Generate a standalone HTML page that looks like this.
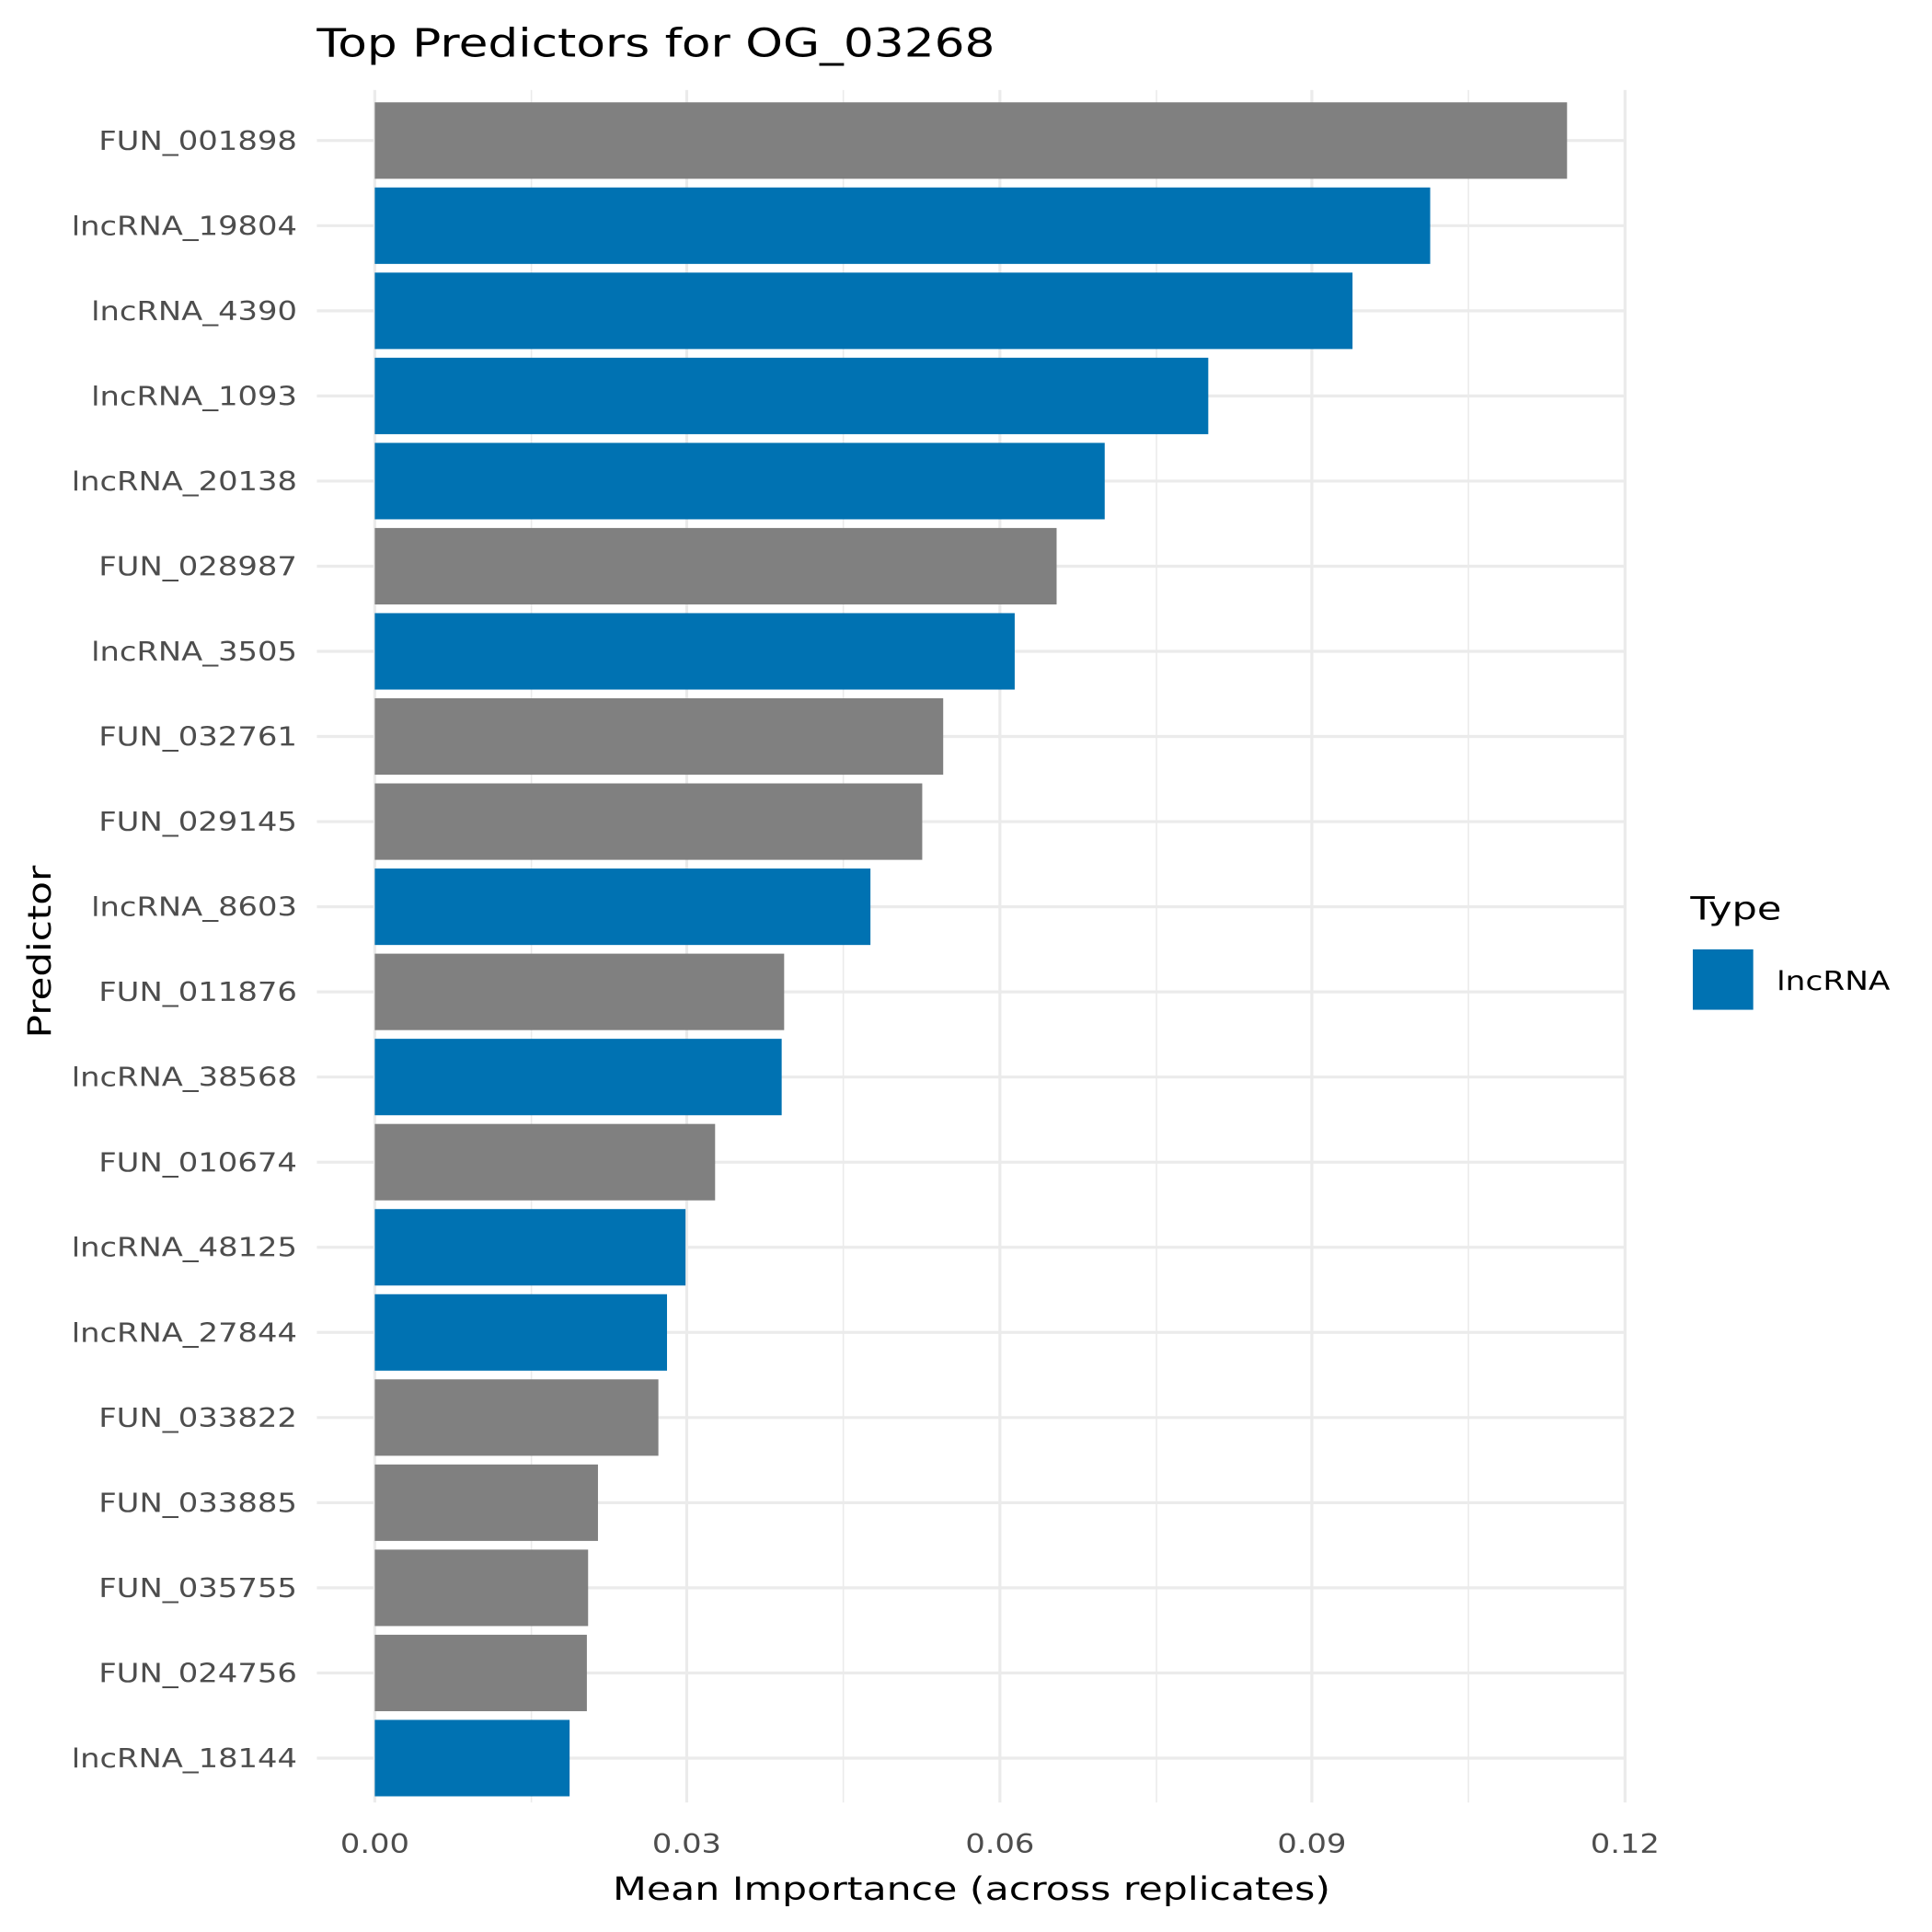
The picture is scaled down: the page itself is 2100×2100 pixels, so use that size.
<!DOCTYPE html>
<html><head><meta charset="utf-8"><style>html,body{margin:0;padding:0;background:#fff}svg{display:block}</style></head>
<body>
<svg xmlns="http://www.w3.org/2000/svg" width="2100" height="2100" viewBox="0 0 1567 1567" font-family="'DejaVu Sans','Liberation Sans',sans-serif">
<rect width="1567" height="1567" fill="#fff"/>
<g stroke="#ebebeb">
<g stroke-width="1.2">
<line x1="431" y1="73" x2="431" y2="1462"/><line x1="684" y1="73" x2="684" y2="1462"/><line x1="938" y1="73" x2="938" y2="1462"/><line x1="1191" y1="73" x2="1191" y2="1462"/>
</g>
<g stroke-width="2.4">
<line x1="304" y1="73" x2="304" y2="1462"/><line x1="557" y1="73" x2="557" y2="1462"/><line x1="811" y1="73" x2="811" y2="1462"/><line x1="1064" y1="73" x2="1064" y2="1462"/><line x1="1318" y1="73" x2="1318" y2="1462"/>
<line x1="257" y1="114" x2="1318" y2="114"/><line x1="257" y1="183.05" x2="1318" y2="183.05"/><line x1="257" y1="252.1" x2="1318" y2="252.1"/><line x1="257" y1="321.15" x2="1318" y2="321.15"/><line x1="257" y1="390.2" x2="1318" y2="390.2"/><line x1="257" y1="459.25" x2="1318" y2="459.25"/><line x1="257" y1="528.3" x2="1318" y2="528.3"/><line x1="257" y1="597.35" x2="1318" y2="597.35"/><line x1="257" y1="666.4" x2="1318" y2="666.4"/><line x1="257" y1="735.45" x2="1318" y2="735.45"/><line x1="257" y1="804.5" x2="1318" y2="804.5"/><line x1="257" y1="873.55" x2="1318" y2="873.55"/><line x1="257" y1="942.6" x2="1318" y2="942.6"/><line x1="257" y1="1011.65" x2="1318" y2="1011.65"/><line x1="257" y1="1080.7" x2="1318" y2="1080.7"/><line x1="257" y1="1149.75" x2="1318" y2="1149.75"/><line x1="257" y1="1218.8" x2="1318" y2="1218.8"/><line x1="257" y1="1287.85" x2="1318" y2="1287.85"/><line x1="257" y1="1356.9" x2="1318" y2="1356.9"/><line x1="257" y1="1425.95" x2="1318" y2="1425.95"/>
</g></g>
<g>
<rect x="304" y="83" width="967" height="62" fill="#808080"/>
<rect x="304" y="152.05" width="856" height="62" fill="#0072b2"/>
<rect x="304" y="221.1" width="793" height="62" fill="#0072b2"/>
<rect x="304" y="290.15" width="676" height="62" fill="#0072b2"/>
<rect x="304" y="359.2" width="592" height="62" fill="#0072b2"/>
<rect x="304" y="428.25" width="553" height="62" fill="#808080"/>
<rect x="304" y="497.3" width="519" height="62" fill="#0072b2"/>
<rect x="304" y="566.35" width="461" height="62" fill="#808080"/>
<rect x="304" y="635.4" width="444" height="62" fill="#808080"/>
<rect x="304" y="704.45" width="402" height="62" fill="#0072b2"/>
<rect x="304" y="773.5" width="332" height="62" fill="#808080"/>
<rect x="304" y="842.55" width="330" height="62" fill="#0072b2"/>
<rect x="304" y="911.6" width="276" height="62" fill="#808080"/>
<rect x="304" y="980.65" width="252" height="62" fill="#0072b2"/>
<rect x="304" y="1049.7" width="237" height="62" fill="#0072b2"/>
<rect x="304" y="1118.75" width="230" height="62" fill="#808080"/>
<rect x="304" y="1187.8" width="181" height="62" fill="#808080"/>
<rect x="304" y="1256.85" width="173" height="62" fill="#808080"/>
<rect x="304" y="1325.9" width="172" height="62" fill="#808080"/>
<rect x="304" y="1394.95" width="158" height="62" fill="#0072b2"/>
</g>
<g font-size="21" fill="#4d4d4d">
<text x="80" y="121.5" textLength="161" lengthAdjust="spacingAndGlyphs">FUN_001898</text>
<text x="58" y="190.5" textLength="183" lengthAdjust="spacingAndGlyphs">lncRNA_19804</text>
<text x="74" y="259.6" textLength="167" lengthAdjust="spacingAndGlyphs">lncRNA_4390</text>
<text x="74" y="328.6" textLength="167" lengthAdjust="spacingAndGlyphs">lncRNA_1093</text>
<text x="58" y="397.7" textLength="183" lengthAdjust="spacingAndGlyphs">lncRNA_20138</text>
<text x="80" y="466.7" textLength="161" lengthAdjust="spacingAndGlyphs">FUN_028987</text>
<text x="74" y="535.8" textLength="167" lengthAdjust="spacingAndGlyphs">lncRNA_3505</text>
<text x="80" y="604.8" textLength="161" lengthAdjust="spacingAndGlyphs">FUN_032761</text>
<text x="80" y="673.9" textLength="161" lengthAdjust="spacingAndGlyphs">FUN_029145</text>
<text x="74" y="742.9" textLength="167" lengthAdjust="spacingAndGlyphs">lncRNA_8603</text>
<text x="80" y="812" textLength="161" lengthAdjust="spacingAndGlyphs">FUN_011876</text>
<text x="58" y="881" textLength="183" lengthAdjust="spacingAndGlyphs">lncRNA_38568</text>
<text x="80" y="950.1" textLength="161" lengthAdjust="spacingAndGlyphs">FUN_010674</text>
<text x="58" y="1019.1" textLength="183" lengthAdjust="spacingAndGlyphs">lncRNA_48125</text>
<text x="58" y="1088.2" textLength="183" lengthAdjust="spacingAndGlyphs">lncRNA_27844</text>
<text x="80" y="1157.2" textLength="161" lengthAdjust="spacingAndGlyphs">FUN_033822</text>
<text x="80" y="1226.3" textLength="161" lengthAdjust="spacingAndGlyphs">FUN_033885</text>
<text x="80" y="1295.3" textLength="161" lengthAdjust="spacingAndGlyphs">FUN_035755</text>
<text x="80" y="1364.4" textLength="161" lengthAdjust="spacingAndGlyphs">FUN_024756</text>
<text x="58" y="1433.4" textLength="183" lengthAdjust="spacingAndGlyphs">lncRNA_18144</text>
</g>
<g font-size="21" fill="#4d4d4d">
<text x="276" y="1503" textLength="56" lengthAdjust="spacingAndGlyphs">0.00</text><text x="529" y="1503" textLength="56" lengthAdjust="spacingAndGlyphs">0.03</text><text x="783" y="1503" textLength="56" lengthAdjust="spacingAndGlyphs">0.06</text><text x="1036" y="1503" textLength="56" lengthAdjust="spacingAndGlyphs">0.09</text><text x="1290" y="1503" textLength="56" lengthAdjust="spacingAndGlyphs">0.12</text>
</g>
<text x="497" y="1541" font-size="26" fill="#000" textLength="582" lengthAdjust="spacingAndGlyphs">Mean Importance (across replicates)</text>
<text transform="translate(41,842) rotate(-90)" font-size="26" fill="#000" textLength="140" lengthAdjust="spacingAndGlyphs">Predictor</text>
<text x="257" y="46" font-size="32" fill="#000" textLength="550" lengthAdjust="spacingAndGlyphs">Top Predictors for OG_03268</text>
<text x="1371" y="746" font-size="26" fill="#000" textLength="74" lengthAdjust="spacingAndGlyphs">Type</text>
<rect x="1373" y="770" width="49" height="49" fill="#0072b2"/>
<text x="1441" y="803" font-size="21" fill="#000" textLength="92" lengthAdjust="spacingAndGlyphs">lncRNA</text>
</svg>
</body></html>
